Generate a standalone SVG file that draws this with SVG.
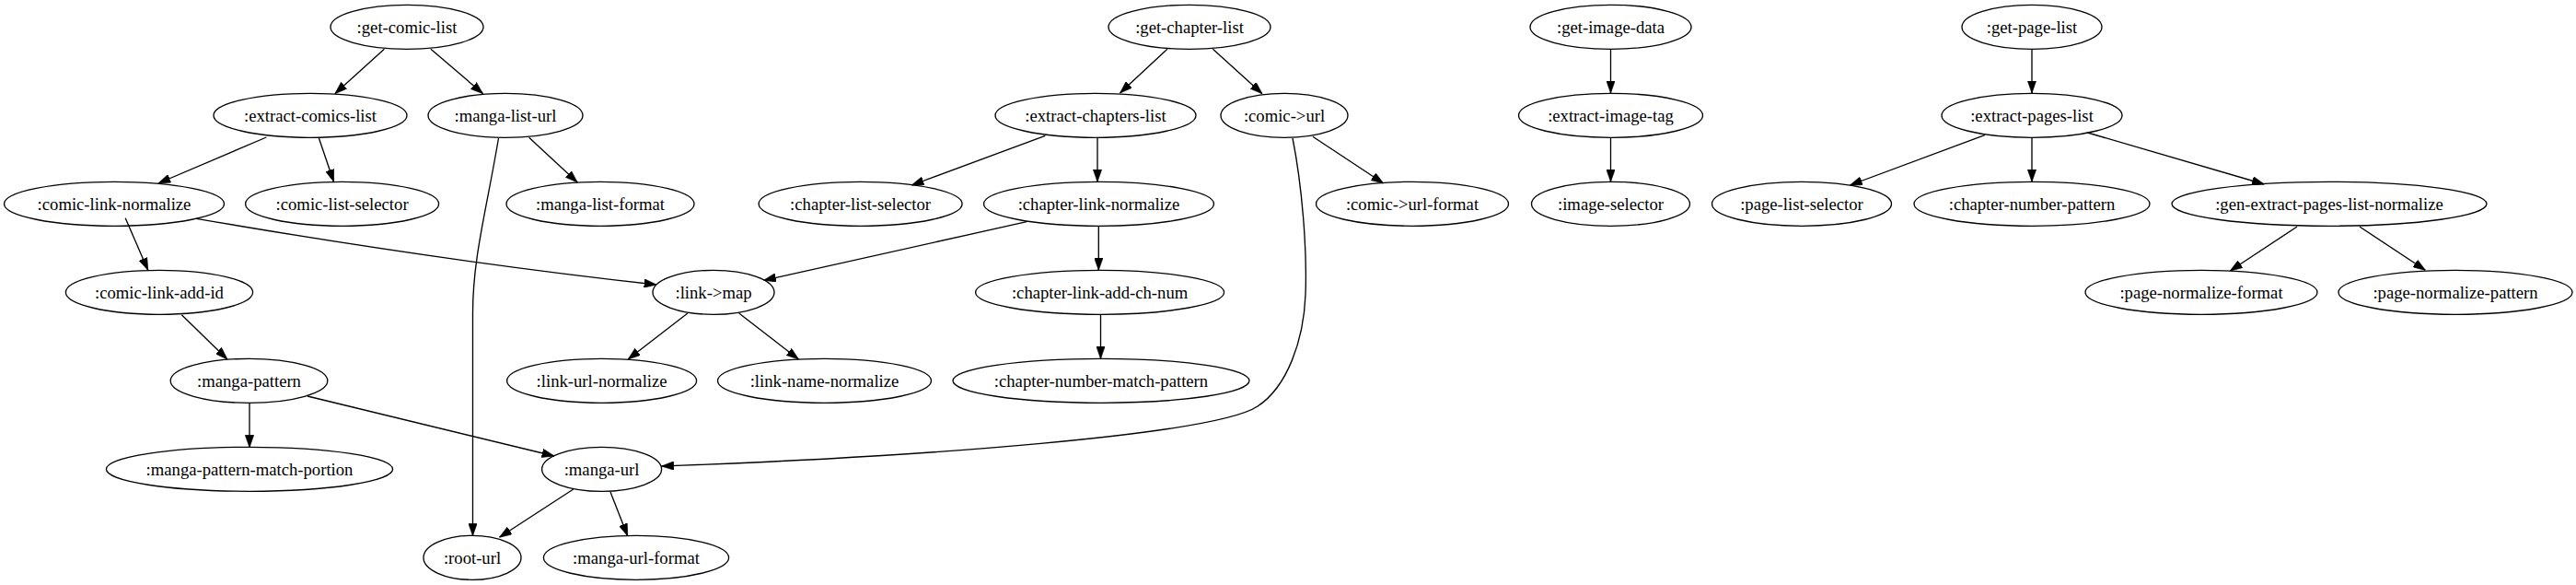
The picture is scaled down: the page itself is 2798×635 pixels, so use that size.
<svg xmlns="http://www.w3.org/2000/svg" width="2798" height="635" viewBox="0 0 2798 635">
<style>
.node ellipse{fill:none;stroke:#000;stroke-width:1.33}
.node text{font-family:"Liberation Serif","Times New Roman",serif;font-size:18.67px;text-anchor:middle;fill:#000}
.edges path{fill:none;stroke:#000;stroke-width:1.33}
</style>
<defs>
<marker id="arr" viewBox="0 0 10 7" refX="10" refY="3.5" markerWidth="13.33" markerHeight="9.33" markerUnits="userSpaceOnUse" orient="auto">
<path d="M0,0 L10,3.5 L0,7 z" fill="#000" stroke="#000" stroke-width="0.5"/>
</marker>
</defs>
<rect width="2798" height="635" fill="#fff"/>
<g class="edges" marker-end="url(#arr)">
<path d="M417.4,53.3 L363.8,101.7"/>
<path d="M467.9,53.3 L524.6,101.7"/>
<path d="M289.3,149 L171.9,199"/>
<path d="M346.4,150 L362.5,197.3"/>
<path d="M574.6,149.3 L627.2,198"/>
<path d="M541.5,150 C528,230 513.5,280 513.5,340 L513.5,581.5"/>
<path d="M136.2,236.7 L160.7,293.3"/>
<path d="M213.4,237.3 C380,266 560,292 713,309"/>
<path d="M197.3,341.7 L246.9,390"/>
<path d="M271,437.7 L271,485.7"/>
<path d="M333.9,430 L602,495"/>
<path d="M622.8,531 L542.4,583.3"/>
<path d="M663,534 L681.7,581.7"/>
<path d="M1267.9,53.3 L1216.5,101"/>
<path d="M1317.4,53.3 L1371,101.7"/>
<path d="M1135.3,147.3 L990.2,201"/>
<path d="M1192,150 L1192,197.3"/>
<path d="M1115.2,240.7 L829.5,304.3"/>
<path d="M1193.3,246 L1193.3,293.3"/>
<path d="M1195.5,341.7 L1195.5,389.3"/>
<path d="M746.9,340 L682.1,390"/>
<path d="M802.7,340 L867.4,390"/>
<path d="M1425.9,148.3 L1502.7,199"/>
<path d="M1404,150 C1414,200 1420,270 1418,320 C1416,370 1398,420 1366,441 C1320,472 1000,496 718.5,506"/>
<path d="M1749.5,53.3 L1749.5,101"/>
<path d="M1749.5,149.3 L1749.5,197.3"/>
<path d="M2207,53.3 L2207,101"/>
<path d="M2155.8,146.7 L2009.4,201"/>
<path d="M2207,150 L2207,197.3"/>
<path d="M2267.4,144 L2459.4,200"/>
<path d="M2495.1,246 L2422.3,294"/>
<path d="M2562.9,246 L2634.4,293.3"/>
</g>
<g id="get-comic-list" class="node"><ellipse cx="442" cy="29.3" rx="83" ry="24"/><text x="442" y="35.5">:get-comic-list</text></g>
<g id="get-chapter-list" class="node"><ellipse cx="1292" cy="29.3" rx="88" ry="24"/><text x="1292" y="35.5">:get-chapter-list</text></g>
<g id="get-image-data" class="node"><ellipse cx="1749.5" cy="29.3" rx="87.5" ry="24"/><text x="1749.5" y="35.5">:get-image-data</text></g>
<g id="get-page-list" class="node"><ellipse cx="2207" cy="29.3" rx="76" ry="24"/><text x="2207" y="35.5">:get-page-list</text></g>
<g id="extract-comics-list" class="node"><ellipse cx="337" cy="125.3" rx="105" ry="24"/><text x="337" y="131.5">:extract-comics-list</text></g>
<g id="manga-list-url" class="node"><ellipse cx="549" cy="125.3" rx="84" ry="24"/><text x="549" y="131.5">:manga-list-url</text></g>
<g id="extract-chapters-list" class="node"><ellipse cx="1190" cy="125.3" rx="109" ry="24"/><text x="1190" y="131.5">:extract-chapters-list</text></g>
<g id="comic-url" class="node"><ellipse cx="1395" cy="125.3" rx="69" ry="24"/><text x="1395" y="131.5">:comic-&gt;url</text></g>
<g id="extract-image-tag" class="node"><ellipse cx="1749.5" cy="125.3" rx="100" ry="24"/><text x="1749.5" y="131.5">:extract-image-tag</text></g>
<g id="extract-pages-list" class="node"><ellipse cx="2207" cy="125.3" rx="98" ry="24"/><text x="2207" y="131.5">:extract-pages-list</text></g>
<g id="comic-link-normalize" class="node"><ellipse cx="124" cy="221.3" rx="119.5" ry="24"/><text x="124" y="227.5">:comic-link-normalize</text></g>
<g id="comic-list-selector" class="node"><ellipse cx="371.6" cy="221.3" rx="105" ry="24"/><text x="371.6" y="227.5">:comic-list-selector</text></g>
<g id="manga-list-format" class="node"><ellipse cx="652" cy="221.3" rx="102" ry="24"/><text x="652" y="227.5">:manga-list-format</text></g>
<g id="chapter-list-selector" class="node"><ellipse cx="934.6" cy="221.3" rx="110.5" ry="24"/><text x="934.6" y="227.5">:chapter-list-selector</text></g>
<g id="chapter-link-normalize" class="node"><ellipse cx="1193.5" cy="221.3" rx="125" ry="24"/><text x="1193.5" y="227.5">:chapter-link-normalize</text></g>
<g id="comic-url-format" class="node"><ellipse cx="1534" cy="221.3" rx="104.5" ry="24"/><text x="1534" y="227.5">:comic-&gt;url-format</text></g>
<g id="image-selector" class="node"><ellipse cx="1749.5" cy="221.3" rx="86" ry="24"/><text x="1749.5" y="227.5">:image-selector</text></g>
<g id="page-list-selector" class="node"><ellipse cx="1957" cy="221.3" rx="97.5" ry="24"/><text x="1957" y="227.5">:page-list-selector</text></g>
<g id="chapter-number-pattern" class="node"><ellipse cx="2207" cy="221.3" rx="128" ry="24"/><text x="2207" y="227.5">:chapter-number-pattern</text></g>
<g id="gen-extract-pages-list-normalize" class="node"><ellipse cx="2530" cy="221.3" rx="171" ry="24"/><text x="2530" y="227.5">:gen-extract-pages-list-normalize</text></g>
<g id="comic-link-add-id" class="node"><ellipse cx="173" cy="317.3" rx="101.6" ry="24"/><text x="173" y="323.5">:comic-link-add-id</text></g>
<g id="link-map" class="node"><ellipse cx="775" cy="317.3" rx="66" ry="24"/><text x="775" y="323.5">:link-&gt;map</text></g>
<g id="chapter-link-add-ch-num" class="node"><ellipse cx="1194.6" cy="317.3" rx="135" ry="24"/><text x="1194.6" y="323.5">:chapter-link-add-ch-num</text></g>
<g id="page-normalize-format" class="node"><ellipse cx="2391" cy="317.3" rx="126" ry="24"/><text x="2391" y="323.5">:page-normalize-format</text></g>
<g id="page-normalize-pattern" class="node"><ellipse cx="2667" cy="317.3" rx="127" ry="24"/><text x="2667" y="323.5">:page-normalize-pattern</text></g>
<g id="manga-pattern" class="node"><ellipse cx="270.5" cy="413.3" rx="85.3" ry="24"/><text x="270.5" y="419.5">:manga-pattern</text></g>
<g id="link-url-normalize" class="node"><ellipse cx="653.6" cy="413.3" rx="103" ry="24"/><text x="653.6" y="419.5">:link-url-normalize</text></g>
<g id="link-name-normalize" class="node"><ellipse cx="895.5" cy="413.3" rx="116" ry="24"/><text x="895.5" y="419.5">:link-name-normalize</text></g>
<g id="chapter-number-match-pattern" class="node"><ellipse cx="1196" cy="413.3" rx="161" ry="24"/><text x="1196" y="419.5">:chapter-number-match-pattern</text></g>
<g id="manga-pattern-match-portion" class="node"><ellipse cx="271" cy="509.3" rx="155.6" ry="24"/><text x="271" y="515.5">:manga-pattern-match-portion</text></g>
<g id="manga-url" class="node"><ellipse cx="653.6" cy="509.3" rx="65" ry="24"/><text x="653.6" y="515.5">:manga-url</text></g>
<g id="root-url" class="node"><ellipse cx="513" cy="605.3" rx="53" ry="24"/><text x="513" y="611.5">:root-url</text></g>
<g id="manga-url-format" class="node"><ellipse cx="691" cy="605.3" rx="100.6" ry="24"/><text x="691" y="611.5">:manga-url-format</text></g>
</svg>
